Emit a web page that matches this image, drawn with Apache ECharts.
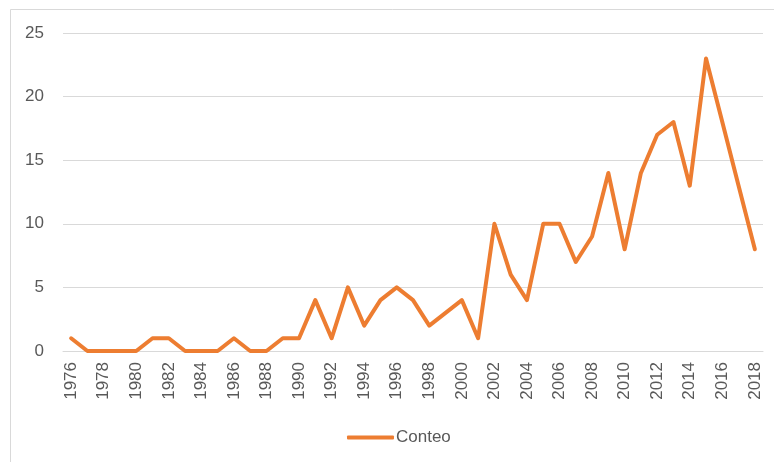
<!DOCTYPE html>
<html>
<head>
<meta charset="utf-8">
<script src="https://cdn.jsdelivr.net/npm/echarts@6/dist/echarts.min.js"></script>
<style>html,body{margin:0;padding:0;background:#fff}#c{width:774px;height:462px}</style>
</head>
<body>
<div id="c"></div>
<script>
var years = [1976,1977,1978,1979,1980,1981,1982,1983,1984,1985,1986,1987,1988,1989,1990,1991,1992,1993,1994,1995,1996,1997,1998,1999,2000,2001,2002,2003,2004,2005,2006,2007,2008,2009,2010,2011,2012,2013,2014,2015,2016,2017,2018];
var conteo = [1,0,0,0,0,1,1,0,0,0,1,0,0,1,1,4,1,5,2,4,5,4,2,3,4,1,10,6,4,10,10,7,9,14,8,14,17,18,13,23,18,13,8];
var seriesName = 'Conteo';

var chart = echarts.init(document.getElementById('c'));
var font = 'Liberation Sans';
chart.setOption({
  animation: false,
  backgroundColor: '#fff',
  graphic: [{
    type: 'rect',
    shape: { x: 10.5, y: 9.5, width: 800, height: 500 },
    style: { fill: 'none', stroke: '#d9d9d9', lineWidth: 1 },
    silent: true
  }],
  grid: { left: 63, right: 11, top: 33, bottom: 111 },
  legend: {
    data: [seriesName],
    left: 342,
    top: 424,
    itemWidth: 47,
    itemHeight: 4,
    itemGap: 10,
    textStyle: { color: '#595959', fontSize: 17, fontFamily: font, padding: [0, 0, 0, -3] },
    icon: 'roundRect'
  },
  xAxis: {
    type: 'category',
    data: years.map(String),
    boundaryGap: true,
    axisLine: { show: true, lineStyle: { color: '#d9d9d9', width: 1 } },
    axisTick: { show: false },
    axisLabel: { rotate: 90, interval: 1, margin: 11, color: '#595959', fontSize: 17, fontFamily: font }
  },
  yAxis: {
    type: 'value',
    min: 0, max: 25, interval: 5,
    axisLine: { show: false },
    axisTick: { show: false },
    splitLine: { lineStyle: { color: '#d9d9d9', width: 1 } },
    axisLabel: { margin: 19, color: '#595959', fontSize: 17, fontFamily: font }
  },
  series: [{
    name: seriesName,
    type: 'line',
    data: conteo,
    symbol: 'none',
    lineStyle: { color: '#ED7D31', width: 4, join: 'round', cap: 'round' },
    itemStyle: { color: '#ED7D31' }
  }]
});
</script>
</body>
</html>
